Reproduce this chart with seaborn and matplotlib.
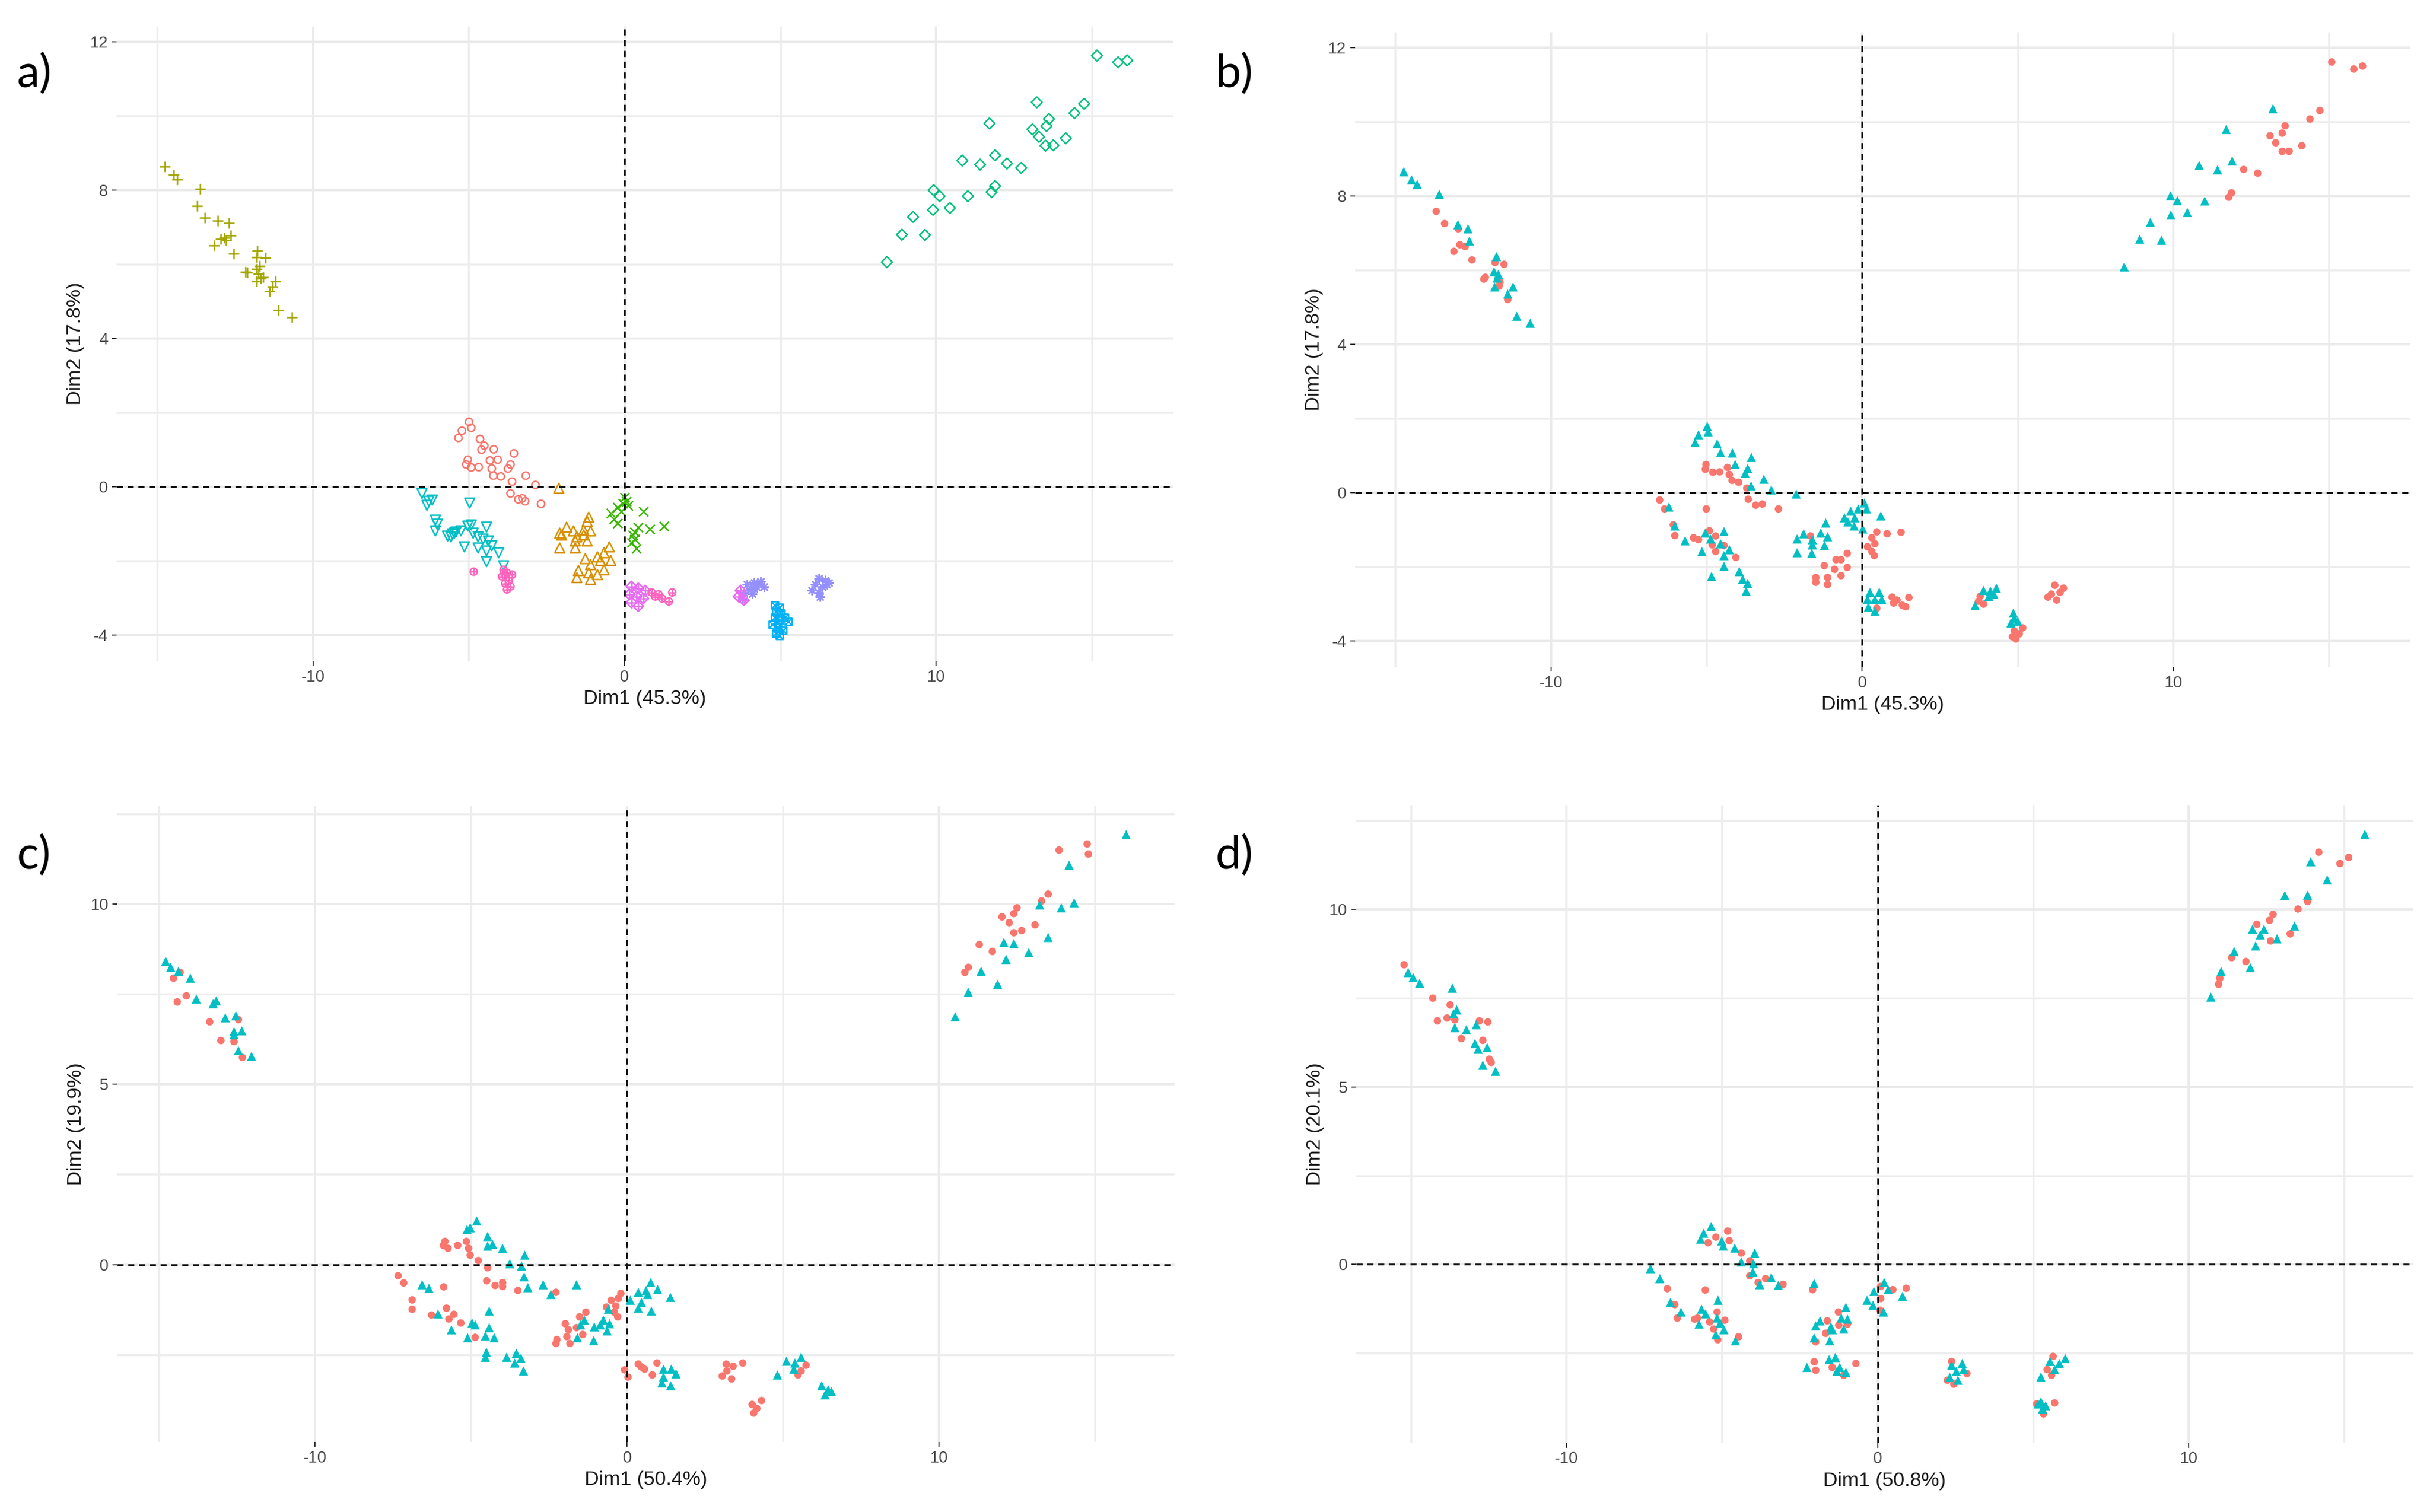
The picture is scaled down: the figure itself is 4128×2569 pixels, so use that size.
import numpy as np
import pandas as pd
import matplotlib
matplotlib.use("Agg")
import matplotlib.pyplot as plt
import seaborn as sns

# ---------------- Panel a (10 groups) ----------------
A_CIRCLE_X = [-4.99, -4.92, -5.22, -5.33, -4.64, -4.50, -4.59, -4.20, -3.55, -5.03, -5.08, -4.92, -4.68, -4.32,
              -4.07, -4.26, -3.66, -3.74, -4.21, -3.97, -3.17, -3.61, -2.86, -3.66, -3.41, -3.19, -2.68, -3.28]
A_CIRCLE_Y = [1.75, 1.59, 1.51, 1.32, 1.29, 1.11, 1.00, 1.01, 0.90, 0.73, 0.60, 0.52, 0.53, 0.71,
              0.73, 0.49, 0.60, 0.49, 0.30, 0.28, 0.30, 0.14, 0.05, -0.18, -0.34, -0.39, -0.46, -0.31]

A_TRI_X = [-2.11, -1.15, -1.20, -1.86, -2.08, -1.64, -1.31, -1.09, -2.02, -1.53, -1.31, -1.58, -1.20, -2.08,
           -1.58, -0.49, -0.66, -0.87, -1.26, -0.77, -0.44, -1.09, -0.66, -1.48, -1.15, -1.53, -1.09, -0.87]
A_TRI_Y = [-0.04, -0.82, -0.93, -1.09, -1.25, -1.19, -1.17, -1.19, -1.30, -1.35, -1.30, -1.46, -1.46, -1.65,
           -1.65, -1.62, -1.78, -1.89, -1.94, -1.99, -1.99, -2.10, -2.24, -2.26, -2.32, -2.45, -2.50, -2.37]

A_PLUS_X = [-14.76, -14.47, -14.35, -13.62, -13.72, -13.46, -13.05, -12.70, -12.63, -12.95, -12.79, -13.17, -12.54,
            -11.78, -11.81, -11.52, -12.16, -11.81, -11.75, -11.68, -11.81, -11.21, -11.40, -11.30, -11.10, -10.67,
            -12.85, -11.72, -12.10, -11.60]
A_PLUS_Y = [8.64, 8.42, 8.29, 8.04, 7.58, 7.26, 7.18, 7.11, 6.78, 6.68, 6.65, 6.51, 6.28,
            6.36, 6.20, 6.17, 5.80, 5.88, 5.75, 5.62, 5.54, 5.54, 5.27, 5.40, 4.76, 4.57,
            6.72, 5.95, 5.78, 5.65]

A_X_X = [0.00, -0.05, 0.11, -0.22, -0.44, -0.11, 0.60, -0.33, -0.22, 0.44, 0.82, 1.26, 0.27, 0.33, 0.22, 0.38, 0.05, 0.33]
A_X_Y = [-0.28, -0.44, -0.50, -0.55, -0.71, -0.66, -0.66, -0.87, -0.98, -1.09, -1.14, -1.06, -1.30, -1.41, -1.51, -1.67, -0.39, -1.22]

A_DIAM_X = [15.16, 15.84, 16.13, 13.23, 14.75, 14.44, 13.62, 13.54, 11.71, 13.09, 13.30, 13.51, 13.76, 14.16, 10.84,
            11.41, 11.89, 12.27, 12.73, 11.89, 11.78, 9.92, 10.11, 11.02, 9.90, 10.44, 9.26, 8.90, 9.64, 8.42]
A_DIAM_Y = [11.63, 11.45, 11.50, 10.37, 10.33, 10.08, 9.92, 9.73, 9.80, 9.64, 9.44, 9.20, 9.21, 9.40, 8.80,
            8.69, 8.94, 8.72, 8.60, 8.11, 7.95, 8.00, 7.84, 7.84, 7.47, 7.52, 7.28, 6.80, 6.79, 6.06]

A_VTRI_X = [-6.50, -6.28, -6.17, -6.34, -4.97, -6.07, -6.01, -6.07, -5.68, -5.52, -5.41, -5.25, -5.03, -4.92,
            -4.43, -4.86, -4.70, -4.54, -4.37, -5.14, -4.70, -4.43, -4.26, -4.04, -4.43, -3.88, -5.46, -5.57]
A_VTRI_Y = [-0.18, -0.39, -0.36, -0.50, -0.44, -0.90, -1.01, -1.19, -1.33, -1.27, -1.22, -1.19, -1.06, -1.03,
            -1.09, -1.25, -1.35, -1.41, -1.46, -1.62, -1.65, -1.73, -1.59, -1.78, -2.02, -2.13, -1.25, -1.35]

A_BOX_X = [4.81, 4.97, 4.86, 5.03, 4.81, 4.97, 5.25, 4.75, 4.92, 5.08, 4.86, 4.97, 5.14, 4.92]
A_BOX_Y = [-3.19, -3.25, -3.36, -3.41, -3.52, -3.60, -3.63, -3.71, -3.79, -3.87, -3.95, -4.01, -3.52, -3.68]

A_AST_X = [3.93, 4.15, 4.37, 4.04, 4.26, 4.48, 3.83, 4.10, 3.77, 6.23, 6.45, 6.56, 6.12, 6.34, 6.01, 6.23, 6.28, 6.50]
A_AST_Y = [-2.64, -2.58, -2.56, -2.74, -2.72, -2.69, -2.85, -2.88, -3.01, -2.48, -2.53, -2.58, -2.64, -2.69, -2.80, -2.85, -2.96, -2.64]

A_DPLUS_X = [0.22, 0.44, 0.66, 0.16, 0.38, 0.60, 0.22, 0.44, 3.66, 3.83, 3.72]
A_DPLUS_Y = [-2.69, -2.74, -2.80, -2.90, -2.96, -3.01, -3.12, -3.22, -2.96, -3.06, -2.80]

A_CPLUS_X = [-4.84, -3.88, -3.77, -3.61, -3.93, -3.72, -3.83, -3.66, -3.77, -3.85, -3.70, 0.87, 1.09, 1.20, 1.53, 1.42, 0.98]
A_CPLUS_Y = [-2.29, -2.24, -2.32, -2.37, -2.42, -2.53, -2.61, -2.69, -2.77, -2.37, -2.45, -2.85, -2.90, -3.01, -2.85, -3.09, -2.96]

# ---------------- Panel b (2 groups) ----------------
B_CIRC_X = [-13.69, -13.42, -12.98, -12.93, -12.76, -13.12, -12.54, -11.80, -11.51, -12.11, -12.16, -11.64, -11.67, -11.39,
            15.09, 15.80, 16.08, 14.71, 14.39, 13.59, 13.50, 13.11, 13.29, 13.50, 13.72, 14.13, 12.26, 12.71, 11.87, 11.78,
            -5.02, -5.04, -4.80, -4.58, -4.33, -4.27, -4.18, -3.97, -3.71, -3.66, -3.42, -3.21, -2.69,
            -6.51, -6.35, -5.01, -6.07, -6.02, -5.42, -5.26, -4.91, -4.71, -4.82, -4.71, -4.06, -4.44,
            -1.66, -0.48, -0.68, -0.84, -1.22, -0.89, -0.48, -0.68, -1.11, -1.49, -1.11, -1.49,
            0.47, 0.80, 1.25, 0.31, 0.41, 0.17, 0.31, 0.39,
            0.96, 1.12, 1.50, 1.29, 1.01, 0.47, 1.40,
            3.79, 3.74, 3.90,
            6.19, 6.47, 6.36, 6.08, 5.97, 6.25,
            5.16, 4.89, 5.05, 4.83, 4.94]
B_CIRC_Y = [7.59, 7.26, 7.12, 6.69, 6.64, 6.51, 6.28, 6.21, 6.16, 5.81, 5.76, 5.68, 5.57, 5.21,
            11.62, 11.43, 11.51, 10.31, 10.08, 9.90, 9.70, 9.63, 9.44, 9.21, 9.21, 9.36, 8.72, 8.62, 8.09, 7.97,
            0.76, 0.63, 0.55, 0.56, 0.68, 0.49, 0.33, 0.28, 0.12, -0.18, -0.34, -0.31, -0.44,
            -0.20, -0.44, -0.44, -0.87, -1.16, -1.22, -1.27, -1.03, -1.17, -1.41, -1.59, -1.75, -1.43,
            -1.17, -1.64, -1.81, -1.81, -1.97, -2.07, -2.02, -2.24, -2.29, -2.29, -2.48, -2.42,
            -1.06, -1.11, -1.07, -1.22, -1.38, -1.46, -1.59, -1.70,
            -2.82, -2.90, -2.83, -3.04, -2.98, -3.12, -3.08,
            -2.80, -2.93, -3.01,
            -2.50, -2.58, -2.69, -2.74, -2.82, -2.90,
            -3.65, -3.73, -3.81, -3.89, -3.95]
B_TRI_X = [-14.73, -14.48, -14.30, -13.59, -12.99, -12.67, -12.62, -11.75, -11.83, -11.69, -11.73, -11.81, -11.22, -11.39, -11.10, -10.67,
           13.20, 11.70, 10.83, 11.42, 11.89, 9.91, 10.13, 11.01, 9.92, 10.45, 9.26, 8.92, 9.62, 8.42,
           -4.98, -5.26, -4.95, -5.37, -4.66, -4.55, -4.17, -3.56, -4.08, -3.68, -3.76, -3.16, -3.57, -2.92, -2.12,
           -6.21, -6.02, -5.04, -4.44, -5.69, -4.87, -4.55, -5.15, -4.27, -4.44, -4.44, -4.84, -3.95, -3.84, -3.73, -3.68,
           -1.17, -1.33, -1.11, -1.88, -2.09, -1.60, -1.60, -1.21, -2.09, -1.62,
           0.07, -0.13, 0.14, -0.37, -0.57, -0.24, 0.60, -0.46, -0.26, 0.02,
           0.25, 0.55, 0.17, 0.41, 0.63, 0.20, 0.41,
           3.90, 4.12, 4.31, 4.07, 4.23, 3.63,
           4.86, 4.89, 4.78, 5.00]
B_TRI_Y = [8.66, 8.44, 8.32, 8.05, 7.23, 7.12, 6.79, 6.37, 5.96, 5.89, 5.79, 5.55, 5.55, 5.36, 4.76, 4.57,
           10.36, 9.80, 8.83, 8.71, 8.95, 8.01, 7.88, 7.87, 7.49, 7.56, 7.29, 6.84, 6.81, 6.09,
           1.79, 1.56, 1.64, 1.35, 1.32, 1.08, 1.07, 0.95, 0.76, 0.65, 0.52, 0.36, 0.18, 0.07, -0.04,
           -0.39, -0.90, -1.09, -1.05, -1.30, -1.25, -1.38, -1.59, -1.54, -1.70, -1.99, -2.26, -2.13, -2.34, -2.66, -2.45,
           -0.82, -1.09, -1.19, -1.11, -1.25, -1.27, -1.41, -1.43, -1.62, -1.64,
           -0.28, -0.44, -0.44, -0.50, -0.68, -0.68, -0.63, -0.79, -0.90, -0.98,
           -2.69, -2.69, -2.88, -2.88, -2.88, -3.09, -3.20,
           -2.64, -2.66, -2.58, -2.80, -2.74, -3.05,
           -3.25, -3.39, -3.52, -3.47]

# ---------------- Panel c (2 groups) ----------------
C_CIRC_X = [-14.33, -14.54, -14.42, -14.13, -13.38, -12.46, -13.02, -12.60, -12.33,
            14.75, 13.85, 14.79, 13.50, 13.29, 12.50, 12.40, 12.02, 12.25, 13.08, 12.65, 12.40, 11.29, 11.71, 10.94, 10.83,
            -5.84, -5.89, -5.74, -5.43, -5.15, -5.08, -5.03, -4.77, -4.47, -4.50, -4.23, -3.99, -3.99, -3.50, -2.28,
            -7.34, -7.16, -5.88, -6.89, -6.89, -6.27, -5.79, -5.55, -5.71, -5.33, -4.87,
            -0.20, -0.28, -0.51, -0.36, -0.66, -0.30, -0.41, -1.32, -1.52, -1.98, -1.88, -1.62, -1.42, -1.93, -2.25, -2.28, -1.83,
            -0.08, 0.03, 0.36, 0.46, 0.56, 0.96, 0.81,
            3.18, 3.40, 3.71, 3.20, 3.05, 3.35,
            4.31, 4.01, 4.16, 4.06,
            5.74, 5.58, 5.48]
C_CIRC_Y = [8.10, 7.94, 7.28, 7.45, 6.73, 6.79, 6.21, 6.18, 5.74,
            11.66, 11.49, 11.38, 10.27, 10.08, 9.89, 9.73, 9.64, 9.48, 9.42, 9.26, 9.20, 8.87, 8.68, 8.24, 8.10,
            0.64, 0.53, 0.45, 0.53, 0.64, 0.45, 0.26, 0.11, -0.09, -0.45, -0.58, -0.50, -0.61, -0.72, -0.77,
            -0.31, -0.51, -0.62, -0.98, -1.24, -1.40, -1.21, -1.38, -1.51, -1.62, -2.02,
            -0.80, -0.94, -0.99, -1.15, -1.18, -1.45, -1.32, -1.32, -1.45, -1.64, -1.81, -1.75, -1.94, -2.00, -2.08, -2.19, -2.19,
            -2.92, -3.12, -2.76, -2.84, -2.90, -2.73, -3.06,
            -2.76, -2.82, -2.73, -2.95, -3.09, -3.17,
            -3.77, -3.88, -3.99, -4.12,
            -2.79, -2.95, -3.06]
C_TRI_X = [-14.79, -14.63, -14.38, -14.00, -13.17, -13.27, -13.81, -12.88, -12.54, -12.60, -12.35, -12.60, -12.46, -12.04,
           16.00, 14.17, 13.23, 13.92, 14.33, 12.08, 12.40, 13.50, 12.88, 12.15, 11.35, 11.88, 10.94, 10.52,
           -4.82, -5.13, -5.03, -4.47, -4.47, -4.31, -3.99, -3.28, -3.76, -3.38, -3.30, -3.18, -2.69, -2.44, -1.62,
           -6.57, -6.35, -6.06, -4.42, -5.63, -4.97, -4.87, -4.42, -5.11, -4.54, -4.26, -4.51, -4.54, -3.86, -3.55,
           -3.40, -3.60, -3.32,
           0.76, 0.98, 0.36, 0.61, 0.66, 1.39, 0.10, 0.46, 0.36, 0.78,
           -0.60, -0.76, -1.37, -1.49, -1.05, -0.86, -0.56, -0.64, -1.07, -1.59,
           1.17, 1.42, 1.57, 1.17, 1.12, 1.40,
           5.11, 5.38, 5.58, 5.35, 4.82,
           6.24, 6.45, 6.35, 6.55]
C_TRI_Y = [8.41, 8.24, 8.13, 7.94, 7.31, 7.23, 7.36, 6.84, 6.90, 6.46, 6.48, 6.37, 5.93, 5.77,
           11.92, 11.07, 9.97, 9.89, 10.03, 8.93, 8.90, 9.07, 8.65, 8.46, 8.13, 7.77, 7.55, 6.87,
           1.21, 0.97, 1.02, 0.78, 0.51, 0.56, 0.45, 0.26, 0.02, -0.04, -0.34, -0.64, -0.56, -0.83, -0.56,
           -0.56, -0.66, -1.37, -1.29, -1.81, -1.62, -1.67, -1.75, -2.03, -1.98, -2.03, -2.43, -2.57, -2.57, -2.46,
           -2.60, -2.73, -2.95,
           -0.50, -0.69, -0.77, -0.72, -0.83, -0.91, -0.99, -1.05, -1.21, -1.29,
           -1.24, -1.54, -1.54, -1.67, -1.73, -1.67, -1.64, -1.84, -2.11, -2.03,
           -2.90, -2.90, -3.03, -3.12, -3.28, -3.36,
           -2.68, -2.73, -2.57, -2.90, -3.06,
           -3.36, -3.47, -3.61, -3.52]

# ---------------- Panel d (2 groups) ----------------
D_CIRC_X = [-15.22, -14.30, -13.74, -14.15, -13.84, -13.59, -12.80, -12.53, -13.38, -12.69, -12.48, -12.42,
            14.18, 15.14, 14.86, 13.82, 13.51, 12.71, 12.60, 12.19, 13.26, 12.63, 11.38, 11.84, 11.00, 10.96,
            -4.82, -5.20, -4.77, -5.45, -4.38, -4.11, -4.11, -3.84, -3.60, -3.04,
            -6.76, -5.54, -6.52, -6.44, -5.88, -5.79, -5.40, -5.16, -4.91, -5.27, -5.14, -4.47,
            -2.09,
            0.10, 0.49, 0.92, 0.10, 0.08,
            -1.26, -0.97, -1.25, -1.62, -1.67, -1.99,
            -2.04, -1.99, -1.46, -0.70, -1.09,
            2.38, 2.87, 2.24, 2.45,
            5.64, 5.45, 5.59, 5.11, 5.69, 5.33]
D_CIRC_Y = [8.44, 7.50, 7.31, 6.86, 6.94, 6.89, 6.86, 6.83, 6.36, 6.31, 5.78, 5.69,
            11.61, 11.46, 11.29, 10.22, 10.01, 9.86, 9.69, 9.58, 9.31, 9.11, 8.64, 8.53, 8.06, 7.89,
            0.94, 0.77, 0.67, 0.61, 0.32, 0.10, -0.32, -0.51, -0.40, -0.56,
            -0.68, -0.72, -1.13, -1.51, -1.54, -1.51, -1.62, -1.34, -1.57, -1.82, -2.12, -2.04,
            -0.71,
            -0.62, -0.71, -0.67, -0.96, -1.29,
            -1.34, -1.68, -1.71, -1.59, -1.94, -2.18,
            -2.74, -2.98, -2.90, -2.79, -3.12,
            -2.73, -3.07, -3.26, -3.37,
            -2.59, -2.96, -3.12, -3.93, -3.90, -4.21]
D_TRI_X = [-15.09, -14.93, -14.72, -13.67, -13.53, -13.63, -13.59, -13.22, -12.90, -12.94, -12.84, -12.55, -12.69, -12.28,
           15.66, 13.92, 14.45, 13.09, 13.82, 12.05, 12.42, 12.30, 13.40, 12.84, 12.15, 11.46, 11.98, 11.04, 10.71,
           -5.35, -5.59, -5.69, -5.01, -4.96, -4.59, -3.95, -4.38, -3.99, -4.01, -3.42, -3.79, -3.19,
           -7.30, -7.00, -6.66, -6.32, -5.66, -5.53, -5.13, -5.16, -5.74, -5.06, -4.94, -5.20, -4.57,
           -2.04,
           0.21, -0.12, 0.34, -0.34, -0.15, 0.19, 0.80,
           -1.02, -1.17, -0.97, -1.85, -1.99, -1.50, -1.46, -1.09, -2.04, -1.54,
           -1.56, -1.36, -1.22, -1.02, -1.31, -2.27,
           2.38, 2.72, 2.53, 2.32, 2.58, 2.77,
           5.54, 5.84, 6.03, 5.69, 5.25,
           5.25, 5.40, 5.30, 5.16]
D_TRI_Y = [8.22, 8.08, 7.92, 7.78, 7.17, 7.06, 6.67, 6.61, 6.75, 6.22, 6.06, 6.11, 5.61, 5.44,
           12.11, 11.34, 10.83, 10.39, 10.40, 9.44, 9.44, 9.28, 9.53, 9.17, 8.97, 8.81, 8.36, 8.25, 7.53,
           1.07, 0.88, 0.71, 0.66, 0.52, 0.46, 0.32, 0.07, 0.02, -0.21, -0.37, -0.57, -0.59,
           -0.12, -0.40, -1.07, -1.34, -1.26, -1.39, -1.01, -1.51, -1.68, -1.65, -1.84, -1.98, -2.15,
           -0.54,
           -0.51, -0.76, -0.71, -1.01, -1.15, -1.34, -0.90,
           -1.21, -1.51, -1.54, -1.59, -1.73, -1.76, -1.84, -1.82, -2.07, -2.15,
           -2.68, -2.62, -2.90, -3.04, -3.01, -2.90,
           -2.84, -2.79, -3.01, -3.18, -3.26, -2.96,
           -2.73, -2.79, -2.65, -2.96, -3.17,
           -3.87, -3.98, -4.07, -3.93]

PANEL_LABELS = ["a)", "b)", "c)", "d)"]
X_TITLES = ["Dim1 (45.3%)", "Dim1 (45.3%)", "Dim1 (50.4%)", "Dim1 (50.8%)"]
Y_TITLES = ["Dim2 (17.8%)", "Dim2 (17.8%)", "Dim2 (19.9%)", "Dim2 (20.1%)"]
X_TICKS = [-10, 0, 10]
Y_TICKS_AB = [-4, 0, 4, 8, 12]
Y_TICKS_CD = [0, 5, 10]

# ---------------- styling ----------------
sns.set_theme(style="white")
plt.rcParams['font.family'] = ['Liberation Sans', 'DejaVu Sans']
plt.rcParams['axes.unicode_minus'] = False

RED, CYAN = "#F8766D", "#00BFC4"
LW_OPEN = 0.9

# group -> (colour, [(marker, hollow, size), ...])
STYLE_A = [
    ("g1", "#F8766D", [("o", True, 20)]),
    ("g2", "#D89000", [("^", True, 36)]),
    ("g3", "#A3A500", [("+", False, 44)]),
    ("g4", "#39B600", [("x", False, 32)]),
    ("g5", "#00BF7D", [("D", True, 22)]),
    ("g6", "#00BFC4", [("v", True, 36)]),
    ("g7", "#00B0F6", [("s", True, 19), ("x", False, 19)]),
    ("g8", "#9590FF", [((8, 2, 0), False, 26)]),
    ("g9", "#E76BF3", [("D", True, 21), ("+", False, 40)]),
    ("g10", "#FF62BC", [("o", True, 19), ("+", False, 19)]),
]


def make_df(pairs):
    frames = []
    for name, xs, ys in pairs:
        frames.append(pd.DataFrame({"Dim1": xs, "Dim2": ys, "group": name}))
    return pd.concat(frames, ignore_index=True)


df_a = make_df([("g1", A_CIRCLE_X, A_CIRCLE_Y), ("g2", A_TRI_X, A_TRI_Y), ("g3", A_PLUS_X, A_PLUS_Y),
                ("g4", A_X_X, A_X_Y), ("g5", A_DIAM_X, A_DIAM_Y), ("g6", A_VTRI_X, A_VTRI_Y),
                ("g7", A_BOX_X, A_BOX_Y), ("g8", A_AST_X, A_AST_Y), ("g9", A_DPLUS_X, A_DPLUS_Y),
                ("g10", A_CPLUS_X, A_CPLUS_Y)])
df_b = make_df([("1", B_CIRC_X, B_CIRC_Y), ("2", B_TRI_X, B_TRI_Y)])
df_c = make_df([("1", C_CIRC_X, C_CIRC_Y), ("2", C_TRI_X, C_TRI_Y)])
df_d = make_df([("1", D_CIRC_X, D_CIRC_Y), ("2", D_TRI_X, D_TRI_Y)])

STYLE_2 = [("1", RED, [("o", False, 21)]), ("2", CYAN, [("^", False, 32)])]

fig = plt.figure(figsize=(20.64, 12.845), dpi=200, facecolor="white")

AX_POS = [
    [0.0480, 0.5628, 0.4347, 0.4198],
    [0.5576, 0.5590, 0.4341, 0.4196],
    [0.0483, 0.0463, 0.4349, 0.4208],
    [0.5581, 0.0456, 0.4348, 0.4218],
]
XLIMS = [(-16.3, 17.6), (-16.3, 17.6), (-16.34, 17.54), (-16.76, 17.2)]
YLIMS = [(-4.7, 12.42), (-4.7, 12.42), (-4.92, 12.72), (-5.03, 12.93)]
LABEL_POS = [(0.0140, 0.951), (0.5080, 0.951), (0.0140, 0.434), (0.5080, 0.434)]


def draw_groups(ax, df, styles):
    for name, color, parts in styles:
        sub = df[df["group"] == name]
        for marker, hollow, s in parts:
            kw = dict(data=sub, x="Dim1", y="Dim2", ax=ax, color=color, marker=marker,
                      s=s, legend=False, zorder=2)
            if hollow:
                kw.update(facecolors="none", edgecolor=color, linewidth=LW_OPEN)
            elif isinstance(marker, str) and marker in ("o", "^"):
                kw.update(edgecolor="none", linewidth=0)
            else:
                kw.update(linewidth=LW_OPEN)
            sns.scatterplot(**kw)


def style_ax(ax, i):
    ax.set_xlim(*XLIMS[i])
    ax.set_ylim(*YLIMS[i])
    ax.set_xticks(X_TICKS)
    ax.set_xticks([-15, -5, 5, 15], minor=True)
    if i < 2:
        ax.set_yticks(Y_TICKS_AB)
        ax.set_yticks([-2, 2, 6, 10], minor=True)
    else:
        ax.set_yticks(Y_TICKS_CD)
        ax.set_yticks([-2.5, 2.5, 7.5, 12.5], minor=True)
    for sp in ax.spines.values():
        sp.set_visible(False)
    ax.set_facecolor("white")
    ax.grid(True, which="major", color="#EBEBEB", lw=1.4)
    ax.grid(True, which="minor", color="#EDEDED", lw=1.2)
    ax.set_axisbelow(True)
    ax.tick_params(which="major", length=2.75, width=0.7, color="#333333",
                   labelsize=10, labelcolor="#4D4D4D", pad=2.5, bottom=True, left=True)
    ax.tick_params(which="minor", length=0)
    ax.axhline(0, color="#1A1A1A", lw=1.1, ls=(0, (3.4, 2.6)), zorder=3)
    ax.axvline(0, color="#1A1A1A", lw=1.1, ls=(0, (3.4, 2.6)), zorder=3)
    ax.set_xlabel(X_TITLES[i], fontsize=12.3, color="#1A1A1A", labelpad=3)
    ax.set_ylabel(Y_TITLES[i], fontsize=12.3, color="#1A1A1A", labelpad=3)


panels = [(df_a, STYLE_A), (df_b, STYLE_2), (df_c, STYLE_2), (df_d, STYLE_2)]
for i, (df, styles) in enumerate(panels):
    ax = fig.add_axes(AX_POS[i])
    draw_groups(ax, df, styles)
    style_ax(ax, i)
    fig.text(LABEL_POS[i][0], LABEL_POS[i][1], PANEL_LABELS[i], fontsize=28,
             family=["Lato", "DejaVu Sans"], ha="center", va="center", color="black")

fig.savefig("out.png", dpi=200, facecolor="white")
